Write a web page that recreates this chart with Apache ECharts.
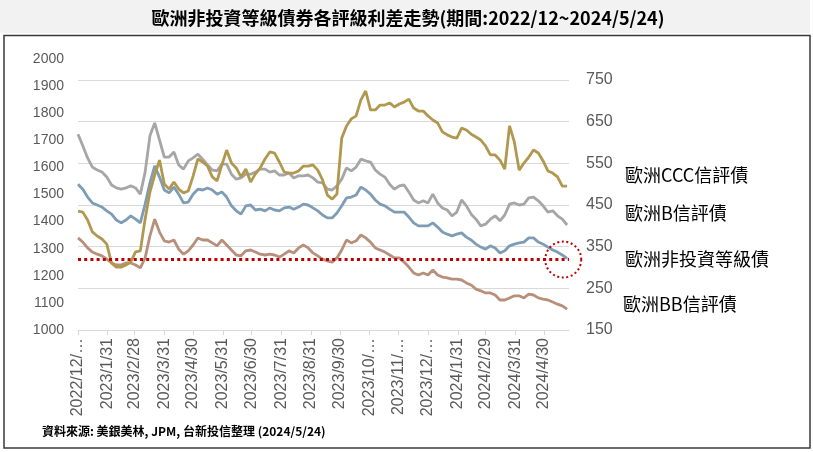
<!DOCTYPE html>
<html>
<head>
<meta charset="utf-8">
<script src="https://cdn.jsdelivr.net/npm/echarts@6/dist/echarts.min.js"></script>
<style>
html,body{margin:0;padding:0;background:#fff;}
#chart{width:813px;height:452px;}
</style>
</head>
<body>
<div id="chart"></div>
<script>
// ---- data ----
const dates = ['2022-12-31','2023-01-05','2023-01-10','2023-01-15','2023-01-20','2023-01-25','2023-01-30','2023-02-04','2023-02-09','2023-02-14','2023-02-19','2023-02-24','2023-03-01','2023-03-06','2023-03-11','2023-03-16','2023-03-21','2023-03-26','2023-03-31','2023-04-05','2023-04-10','2023-04-15','2023-04-20','2023-04-25','2023-04-30','2023-05-05','2023-05-10','2023-05-15','2023-05-20','2023-05-25','2023-05-30','2023-06-04','2023-06-09','2023-06-14','2023-06-19','2023-06-24','2023-06-29','2023-07-04','2023-07-09','2023-07-14','2023-07-19','2023-07-24','2023-07-29','2023-08-03','2023-08-08','2023-08-13','2023-08-18','2023-08-23','2023-08-28','2023-09-02','2023-09-07','2023-09-12','2023-09-17','2023-09-22','2023-09-27','2023-10-02','2023-10-07','2023-10-12','2023-10-17','2023-10-22','2023-10-27','2023-11-01','2023-11-06','2023-11-11','2023-11-16','2023-11-21','2023-11-26','2023-12-01','2023-12-06','2023-12-11','2023-12-16','2023-12-21','2023-12-26','2023-12-31','2024-01-05','2024-01-10','2024-01-15','2024-01-20','2024-01-25','2024-01-30','2024-02-04','2024-02-09','2024-02-14','2024-02-19','2024-02-24','2024-02-29','2024-03-05','2024-03-10','2024-03-15','2024-03-20','2024-03-25','2024-03-30','2024-04-04','2024-04-09','2024-04-14','2024-04-19','2024-04-24','2024-04-29','2024-05-04','2024-05-09','2024-05-14','2024-05-19','2024-05-24'];

// 歐洲CCC信評債 (left axis)
const cccValues = [1439,1435,1406,1362,1347,1336,1317,1247,1232,1232,
  1240,1251,1288,1292,1410,1509,1572,1627,1539,1520,
  1546,1520,1506,1513,1568,1631,1620,1605,1565,1550,
  1609,1664,1616,1598,1565,1594,1546,1576,1598,1631,
  1657,1653,1620,1583,1579,1579,1587,1605,1605,1609,
  1590,1554,1498,1483,1502,1708,1753,1779,1790,1849,
  1882,1812,1812,1830,1830,1838,1823,1834,1841,1852,
  1819,1808,1808,1790,1775,1764,1731,1720,1712,1708,
  1745,1738,1723,1712,1701,1679,1646,1646,1627,1594,
  1753,1694,1590,1616,1638,1664,1653,1624,1587,1579,
  1565,1531,1531];

// 歐洲B信評債 (right axis)
const bValues = [620,592,563,541,534,529,517,498,491,488,
  491,496,491,476,529,616,647,606,565,565,
  577,546,536,556,563,572,560,546,534,532,
  548,548,524,512,515,524,524,529,536,536,
  529,532,522,522,527,515,520,520,522,515,
  505,503,488,486,496,512,539,532,541,560,
  556,553,534,524,517,500,488,496,498,481,
  462,455,460,455,476,455,443,438,424,433,
  462,448,428,416,400,404,416,424,412,426,
  452,455,450,452,467,469,460,448,433,436,
  424,416,402];

// 歐洲非投資等級債 (right axis)
const hyValues = [500,488,469,455,450,445,436,428,414,407,
  414,424,416,407,452,503,544,517,486,479,
  493,476,455,457,476,488,486,491,486,476,
  481,469,448,436,428,448,450,438,440,436,
  443,438,436,443,445,440,445,452,450,443,
  436,426,419,419,431,448,467,469,474,493,
  486,476,462,452,448,440,433,433,433,421,
  407,400,400,400,407,397,385,380,376,380,
  383,373,366,356,349,344,352,347,335,340,
  352,356,359,361,371,371,361,356,349,342,
  337,330,322];

// 歐洲BB信評債 (right axis)
const bbValues = [371,361,347,337,332,328,320,311,306,306,
  311,311,306,299,323,376,416,385,364,361,
  366,344,332,340,354,371,366,366,359,352,
  366,354,342,330,328,340,342,337,332,330,
  332,330,325,332,340,335,347,354,347,335,
  328,320,316,313,323,342,366,359,364,378,
  371,361,347,342,337,330,323,323,313,301,
  287,282,287,282,294,282,277,275,272,272,
  270,263,258,248,244,239,239,234,222,222,
  227,232,232,227,236,234,227,224,222,217,
  212,208,200];

const seriesNames = ['歐洲CCC信評債','歐洲B信評債','歐洲非投資等級債','歐洲BB信評債'];

const tickDates = ['2022-12-31','2023-01-31','2023-02-28','2023-03-31','2023-04-30','2023-05-31','2023-06-30','2023-07-31','2023-08-31','2023-09-30','2023-10-31','2023-11-30','2023-12-31','2024-01-31','2024-02-29','2024-03-31','2024-04-30'];
const tickLabels = ['2022/12/…','2023/1/31','2023/2/28','2023/3/31','2023/4/30','2023/5/31','2023/6/30','2023/7/31','2023/8/31','2023/9/30','2023/10/…','2023/11/…','2023/12/…','2024/1/31','2024/2/29','2024/3/31','2024/4/30'];

const axisStart = '2022-12-31';
const axisEnd = '2024-05-26';
const refLevel = 319;              // red dotted reference level (right axis)
const circleDate = '2024-05-20';   // red dotted circle marker
const titleText = '歐洲非投資等級債券各評級利差走勢(期間:2022/12~2024/5/24)';
const sourceText = '資料來源: 美銀美林, JPM, 台新投信整理 (2024/5/24)';

// ---- helpers ----
function ts(s){ const p = s.split('-').map(Number); return new Date(p[0], p[1]-1, p[2]).getTime(); }
function pairs(vals){ return dates.map((d,i)=>[ts(d), vals[i]]); }
const tickTs = tickDates.map(ts);

const colors = {ccc:'#b0984f', b:'#a6a6a6', hy:'#7f9cb5', bb:'#b88f7a'};
const latin = "'Liberation Sans', Arial, 'Noto Sans CJK TC', sans-serif";
const cjk = "'Noto Sans CJK TC', 'Liberation Sans', sans-serif";

const chart = echarts.init(document.getElementById('chart'), null, {renderer:'canvas'});

const GL = 78, GR = 244, GB = 122;

const option = {
  animation: false,
  backgroundColor: '#ffffff',
  grid: [
    {left: GL, right: GR, top: 59, bottom: GB, containLabel: false},
    {left: GL, right: GR, top: 80, bottom: GB, containLabel: false}
  ],
  xAxis: [
    {type:'value', gridIndex:0, min: ts(axisStart), max: ts(axisEnd), show:false, splitLine:{show:false}},
    {type:'value', gridIndex:1, min: ts(axisStart), max: ts(axisEnd),
     axisLine:{show:true, lineStyle:{color:'#d9d9d9', width:1}},
     axisTick:{show:true, customValues: tickTs, length:5, lineStyle:{color:'#d9d9d9'}},
     axisLabel:{show:true, customValues: tickTs, rotate:90, margin:8,
       color:'#595959', fontSize:16, fontFamily: latin,
       formatter: function(v){ const i = tickTs.indexOf(v); return i >= 0 ? tickLabels[i] : ''; }},
     splitLine:{show:false}}
  ],
  yAxis: [
    {type:'value', gridIndex:0, position:'left', min:1000, max:2000, interval:100,
     axisLine:{show:false}, axisTick:{show:false}, splitLine:{show:false},
     axisLabel:{color:'#595959', fontSize:14, margin:14, fontFamily: latin,
       formatter: function(v){ return String(v); }}},
    {type:'value', gridIndex:1, position:'right', min:150, max:750, interval:100,
     axisLine:{show:false}, axisTick:{show:false},
     splitLine:{show:true, lineStyle:{color:'#d9d9d9', width:1}},
     axisLabel:{color:'#595959', fontSize:16, margin:17, fontFamily: latin,
       formatter: function(v){ return String(v); }}}
  ],
  series: [
    {name: seriesNames[1], type:'line', xAxisIndex:1, yAxisIndex:1, data: pairs(bValues),
     showSymbol:false, lineStyle:{color:colors.b, width:2.8}, itemStyle:{color:colors.b}},
    {name: seriesNames[2], type:'line', xAxisIndex:1, yAxisIndex:1, data: pairs(hyValues),
     showSymbol:false, lineStyle:{color:colors.hy, width:2.8}, itemStyle:{color:colors.hy}},
    {name: seriesNames[3], type:'line', xAxisIndex:1, yAxisIndex:1, data: pairs(bbValues),
     showSymbol:false, lineStyle:{color:colors.bb, width:2.8}, itemStyle:{color:colors.bb},
     markLine:{silent:true, symbol:['none','none'], label:{show:false},
       lineStyle:{color:'#c00000', width:3, type:[3,3.2], cap:'butt'},
       data:[{yAxis: refLevel}]},
     markPoint:{silent:true, symbol:'circle', symbolSize:36, label:{show:false},
       itemStyle:{color:'rgba(0,0,0,0)', borderColor:'#c00000', borderWidth:2, borderType:[2,2.6]},
       data:[{coord:[ts(circleDate), refLevel]}]}},
    {name: seriesNames[0], type:'line', xAxisIndex:0, yAxisIndex:0, data: pairs(cccValues),
     showSymbol:false, lineStyle:{color:colors.ccc, width:2.8}, itemStyle:{color:colors.ccc}}
  ],
  graphic: [
    {type:'rect', shape:{x:0,y:0,width:810,height:33}, style:{fill:'#f2f2f2'}, silent:true, z:-10},
    {type:'rect', shape:{x:4,y:35.5,width:806,height:412.5}, style:{fill:'none', stroke:'#3a3a3a', lineWidth:1.5}, silent:true},
    {type:'text', x:408, y:18, style:{text:titleText, font:"bold 18px " + cjk, fill:'#000', align:'center', verticalAlign:'middle'}},
    {type:'text', x:42, y:431, style:{text:sourceText, font:"bold 12px " + cjk, fill:'#000', align:'left', verticalAlign:'middle'}},
    {type:'text', x:625, y:175, style:{text:seriesNames[0], font:"18px " + cjk, fill:'#000', verticalAlign:'middle'}},
    {type:'text', x:625, y:213, style:{text:seriesNames[1], font:"18px " + cjk, fill:'#000', verticalAlign:'middle'}},
    {type:'text', x:625, y:259, style:{text:seriesNames[2], font:"18px " + cjk, fill:'#000', verticalAlign:'middle'}},
    {type:'text', x:623, y:304, style:{text:seriesNames[3], font:"18px " + cjk, fill:'#000', verticalAlign:'middle'}}
  ]
};
chart.setOption(option);
</script>
</body>
</html>
